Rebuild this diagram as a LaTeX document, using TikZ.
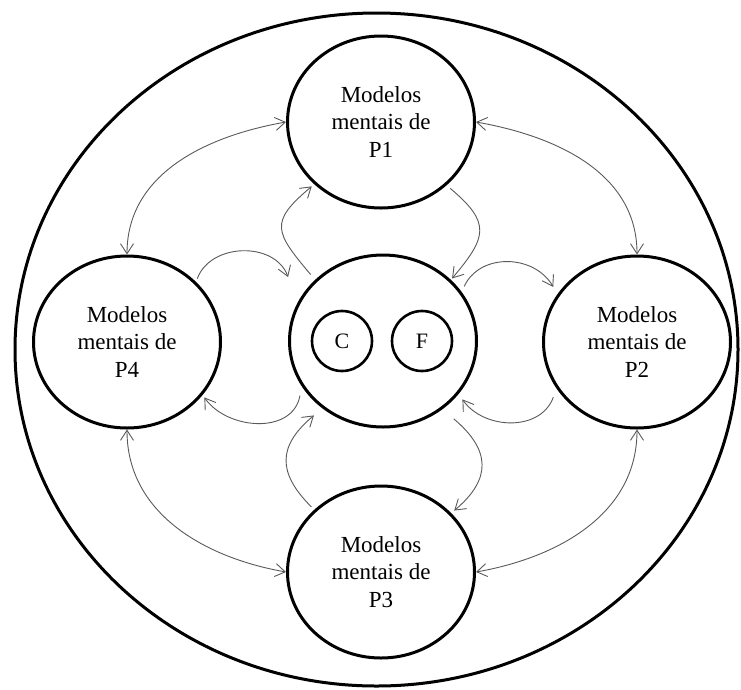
\documentclass[tikz,border=0pt]{standalone}
\usepackage{fontspec}
\setmainfont{Liberation Serif}
\usetikzlibrary{shapes.geometric,arrows.meta}

\tikzset{
  model/.style={ellipse, draw, line width=3pt, minimum width=187pt,
    minimum height=172pt, inner sep=0pt, align=center,
    font=\fontsize{23pt}{27.5pt}\selectfont},
  small/.style={circle, draw, line width=2.6pt, minimum size=60pt,
    inner sep=0pt, font=\fontsize{22pt}{26pt}\selectfont},
  barb/.tip={Straight Barb[length=10pt,width=13pt]},
  flow/.style={line width=0.9pt, draw=black!65, -barb},
  swap/.style={line width=0.9pt, draw=black!65, barb-barb},
}

\begin{document}
\begin{tikzpicture}[x=1pt, y=-1pt]
\useasboundingbox (0,0) rectangle (741,689);

% outer boundary
\node[ellipse, draw, line width=3pt, minimum width=723pt,
      minimum height=673pt, inner sep=0pt] (world) at (376.5,349.5) {};

% mental models of the four participants and the shared core
\node[model] (P1) at (381,122) {Modelos\\mentais de\\P1};
\node[model] (P2) at (637,342) {Modelos\\mentais de\\P2};
\node[model] (P3) at (381,572) {Modelos\\mentais de\\P3};
\node[model] (P4) at (127,342) {Modelos\\mentais de\\P4};
\node[model, font=\normalsize] (M) at (383,341) {};
\node[small] (C) at (342,341) {C};
\node[small] (F) at (422,341) {F};

% exchanges between neighbouring participants
\draw[swap] (P4.north) to[out=90, in=190] (P1.west);
\draw[swap] (P1.east) to[out=-10, in=90] (P2.north);
\draw[swap] (P4.south) to[out=-90, in=170] (P3.west);
\draw[swap] (P2.south) to[out=-90, in=10] (P3.east);

% exchanges with the shared core
\draw[flow, shorten <=7pt, shorten >=3.3pt]
  (M.138) .. controls +(130:62.9pt) and +(220:59.2pt) .. (P1.223);
\draw[flow, shorten <=3.5pt, shorten >=27.5pt]
  (P4.41) .. controls +(70:41.8pt) and +(110:65.8pt) .. (M.156);
\draw[flow, shorten <=4.7pt, shorten >=1.8pt]
  (P1.316) .. controls +(-40:58.7pt) and +(50:55.8pt) .. (M.42);
\draw[flow, shorten <=6pt, shorten >=8.4pt]
  (M.32) .. controls +(65:43.6pt) and +(120:46pt) .. (P2.149);
\draw[flow, shorten <=9.3pt, shorten >=6.6pt]
  (P2.210) .. controls +(250:46.4pt) and +(305:43.7pt) .. (M.325);
\draw[flow, shorten <=14.8pt, shorten >=3.9pt]
  (M.311) .. controls +(-40:63.5pt) and +(40:52.6pt) .. (P3.40);
\draw[flow, shorten <=9.6pt, shorten >=3pt]
  (M.209) .. controls +(260:49.5pt) and +(305:42.9pt) .. (P4.325);
\draw[flow, shorten <=4pt, shorten >=11pt]
  (P3.137) .. controls +(135:52pt) and +(220:59pt) .. (M.228);
\end{tikzpicture}
\end{document}
